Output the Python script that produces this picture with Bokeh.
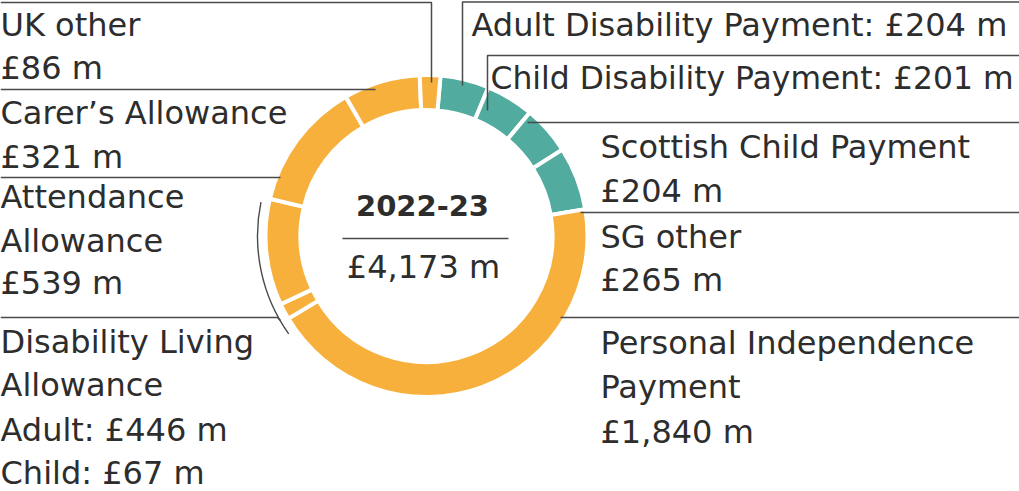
import math
from bokeh.plotting import figure
from bokeh.models import Range1d
from bokeh.core.properties import value
from bokeh.embed import file_html
from bokeh.resources import INLINE

# ---------------- data ----------------
year_label = "2022-23"
categories = ["Adult Disability Payment", "Child Disability Payment", "Scottish Child Payment",
              "SG other", "Personal Independence Payment", "Disability Living Allowance Child",
              "Disability Living Allowance Adult", "Attendance Allowance", "Carer’s Allowance",
              "UK other"]
values = [204, 201, 204, 265, 1840, 67, 446, 539, 321, 86]
groups = ["SG", "SG", "SG", "SG", "UK", "UK", "UK", "UK", "UK", "UK"]
group_colors = {"SG": "#52AB9F", "UK": "#F8B03D"}

# ---------------- layout helpers ----------------
REF_W, REF_H = 1019, 491
W, H = 1019, 491
TXT = "#2d2d2d"
LINE = "#4a4a4a"
FONT = "DejaVu Sans"
FS = "32px"
DY = -11  # baseline correction for text placement


def Y(v):
    return REF_H - v


def TY(v):
    return REF_H - (v + DY)


def money(v):
    return f"£{v:,} m"


p = figure(width=W, height=H, x_range=Range1d(0, REF_W), y_range=Range1d(0, REF_H),
           output_backend="svg", toolbar_location=None, min_border=0)
p.axis.visible = False
p.grid.visible = False
p.outline_line_color = None
p.background_fill_color = "white"

# ---------------- donut ----------------
total = sum(values)
CX, CY = 426, 235.5
OFFSET = 5.0  # degrees clockwise from 12 o'clock where the first slice starts
starts, ends = [], []
cum = 0
for v in values:
    t0 = OFFSET + cum / total * 360
    cum += v
    t1 = OFFSET + cum / total * 360
    starts.append(math.radians(90 - t1))
    ends.append(math.radians(90 - t0))

p.annular_wedge(x=[CX] * len(values), y=[Y(CY)] * len(values), inner_radius=126, outer_radius=161,
                start_angle=starts, end_angle=ends, direction="anticlock",
                fill_color=[group_colors[g] for g in groups], line_color="white", line_width=4)

# bracket arc spanning the two Disability Living Allowance slices
dla_idx = [5, 6]
dla_t0 = OFFSET + sum(values[:dla_idx[0]]) / total * 360
dla_t1 = OFFSET + sum(values[:dla_idx[-1] + 1]) / total * 360
p.arc(x=CX, y=Y(CY), radius=169, start_angle=math.radians(90 - (dla_t1 - 1.8)),
      end_angle=math.radians(90 - (dla_t0 - 4.5)), direction="anticlock",
      line_color=LINE, line_width=1.4)

# ---------------- leader lines ----------------
leaders = [
    [(0, 2), (431, 2), (431, 82)],          # UK other
    [(0, 89), (375, 89)],                   # Carer's
    [(0, 177), (280, 177)],                 # Attendance
    [(0, 317), (277, 317), (280, 320)],     # DLA
    [(462, 85), (462, 1.5), (1019, 1.5)],   # Adult DP
    [(487, 110), (487, 55), (1019, 55)],    # Child DP
    [(527, 122), (1019, 122)],              # Scottish Child Payment
    [(580, 212), (1019, 212)],              # SG other
    [(560, 317), (1019, 317)],              # PIP
    [(342, 238), (508, 238)],               # centre separator
]
p.multi_line(xs=[[a for a, b in l] for l in leaders], ys=[[Y(b) for a, b in l] for l in leaders],
             line_color=LINE, line_width=1.5)

# ---------------- labels ----------------
labels = [
    (0, 35, "UK other"), (0, 78, money(values[9])),
    (0, 123, "Carer’s Allowance"), (0, 167, money(values[8])),
    (0, 207, "Attendance"), (0, 251, "Allowance"), (0, 293, money(values[7])),
    (0, 352, "Disability Living"), (0, 395, "Allowance"),
    (0, 440, "Adult: " + money(values[6])), (0, 483, "Child: " + money(values[5])),
    (471, 35, "Adult Disability Payment: " + money(values[0])),
    (600, 157, "Scottish Child Payment"), (600, 201, money(values[2])),
    (600, 247, "SG other"), (600, 290, money(values[3])),
    (600, 353, "Personal Independence"), (600, 397, "Payment"), (600, 442, money(values[4])),
]
p.text(x=[l[0] for l in labels], y=[TY(l[1]) for l in labels], text=[l[2] for l in labels],
       text_font=value(FONT), text_font_size=FS, text_color=TXT,
       text_align="left", text_baseline="alphabetic")
p.text(x=[490], y=[TY(88)], text=["Child Disability Payment: " + money(values[1])],
       text_font=value(FONT), text_font_size="31.4px", text_color=TXT,
       text_align="left", text_baseline="alphabetic")

# centre
p.text(x=[422], y=[TY(216)], text=[year_label], text_font=value(FONT), text_font_size="29px",
       text_font_style="bold", text_color=TXT, text_align="center", text_baseline="alphabetic")
p.text(x=[423], y=[TY(277)], text=[money(total)], text_font=value(FONT), text_font_size=FS,
       text_color=TXT, text_align="center", text_baseline="alphabetic")

open("out.html", "w").write(file_html(p, INLINE))
